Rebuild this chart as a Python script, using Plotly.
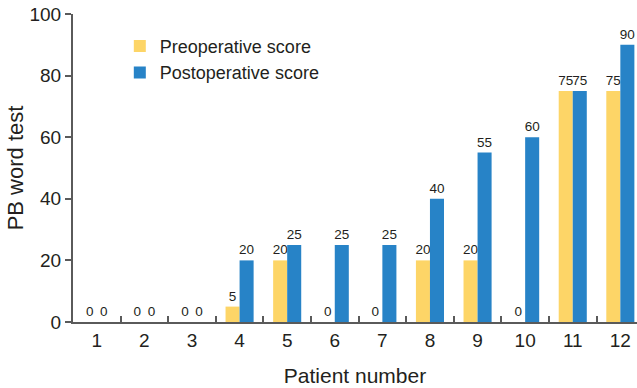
import plotly.graph_objects as go

# PB word test scores per patient, before and after surgery
patients = [str(i) for i in range(1, 13)]
preoperative = [0, 0, 0, 5, 20, 0, 0, 20, 20, 0, 75, 75]
postoperative = [0, 0, 0, 20, 25, 25, 25, 40, 55, 60, 75, 90]

yellow = "#FDD567"
blue = "#2783C7"
text_color = "#231F20"
axis_color = "#5A5A5A"
font_family = "Liberation Sans, Arial, Helvetica, sans-serif"

fig = go.Figure()
fig.add_trace(go.Bar(
    x=patients, y=preoperative, name="Preoperative score",
    marker=dict(color=yellow, line=dict(width=0)),
    text=[str(v) for v in preoperative], textposition="outside",
    textfont=dict(size=13.5, color=text_color, family=font_family),
    constraintext="none", cliponaxis=False,
))
fig.add_trace(go.Bar(
    x=patients, y=postoperative, name="Postoperative score",
    marker=dict(color=blue, line=dict(width=0)),
    text=[str(v) for v in postoperative], textposition="outside",
    textfont=dict(size=13.5, color=text_color, family=font_family),
    constraintext="none", cliponaxis=False,
))

fig.update_layout(
    width=637, height=388,
    margin=dict(l=73, r=0, t=14, b=66),
    paper_bgcolor="white", plot_bgcolor="white",
    barmode="group", bargap=0.41, bargroupgap=0,
    font=dict(family=font_family, color=text_color, size=17),
    showlegend=True,
    legend=dict(
        x=0.083, y=0.955, xanchor="left", yanchor="top",
        font=dict(size=18, color=text_color, family=font_family),
        bgcolor="rgba(0,0,0,0)", itemsizing="constant",
        tracegroupgap=0,
    ),
    xaxis=dict(
        type="category", range=[-0.5, 11.35],
        showline=True, linecolor=axis_color, linewidth=2,
        ticks="inside", tickson="boundaries", ticklen=6,
        tickcolor=axis_color, tickwidth=1.5,
        tickfont=dict(size=19, color=text_color),
        showgrid=False, zeroline=False,
        title=dict(text="Patient number", font=dict(size=21, color=text_color), standoff=19),
    ),
    yaxis=dict(
        range=[0, 100], tickvals=[0, 20, 40, 60, 80, 100],
        showline=True, linecolor=axis_color, linewidth=2,
        ticks="outside", ticklen=6, tickcolor=axis_color, tickwidth=1.5,
        tickfont=dict(size=19, color=text_color),
        showgrid=False, zeroline=False,
        title=dict(text="PB word test", font=dict(size=22, color=text_color), standoff=0),
    ),
)

fig.write_html("out.html")
